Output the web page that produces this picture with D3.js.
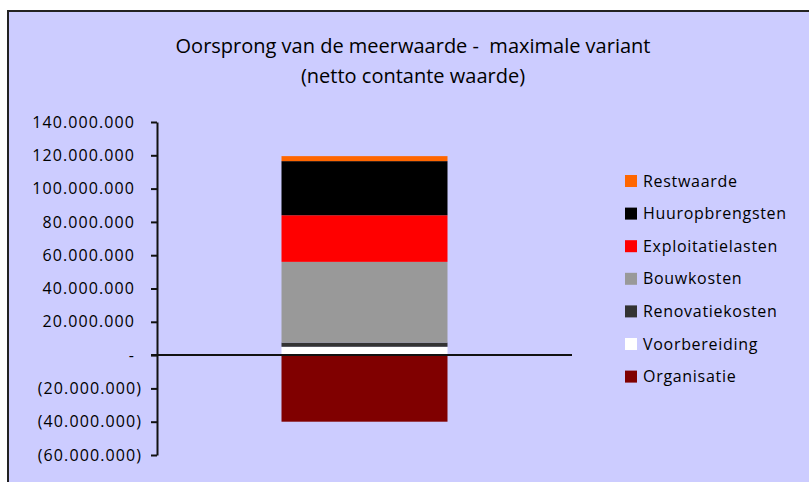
<!DOCTYPE html>
<html>
<head>
<meta charset="utf-8">
<script src="https://cdn.jsdelivr.net/npm/d3@7"></script>
<style>
  body { margin: 0; background: #fff; }
  text { font-family: "Open Sans", sans-serif; fill: #000; }
</style>
</head>
<body>
<div class="graph"></div>
<script>
// legend order, top to bottom
const categories = ['Restwaarde', 'Huuropbrengsten', 'Exploitatielasten', 'Bouwkosten', 'Renovatiekosten', 'Voorbereiding', 'Organisatie'];
const values = [3000000, 32500000, 28000000, 48500000, 2500000, 5000000, -40000000];
const colors = ['#FF6600', '#000000', '#FF0000', '#999999', '#333333', '#FFFFFF', '#800000'];
const tickValues = [140e6, 120e6, 100e6, 80e6, 60e6, 40e6, 20e6, 0, -20e6, -40e6, -60e6];
const titleLines = ['Oorsprong van de meerwaarde -  maximale variant', '(netto contante waarde)'];

const W = 809, H = 482;

const svg = d3.select('.graph').append('svg')
  .attr('width', W)
  .attr('height', H);

// chart area
svg.append('rect')
  .attr('x', 8).attr('y', 11)
  .attr('width', 820).attr('height', 500)
  .attr('fill', '#CCCCFF')
  .attr('stroke', '#222')
  .attr('stroke-width', 2);

svg.append('g').selectAll('text')
  .data(titleLines)
  .join('text')
  .attr('x', 413)
  .attr('y', (d, i) => 53 + i * 30)
  .attr('text-anchor', 'middle')
  .attr('font-size', 20)
  .style('white-space', 'pre')
  .text(d => d);

// stack bottom-up: reversed legend order
const order = categories.slice().reverse();
const row = {};
categories.forEach((c, i) => row[c] = values[i]);

const series = d3.stack()
  .keys(order)
  .offset(d3.stackOffsetDiverging)([row]);

const x = d3.scaleBand()
  .domain(['maximale variant'])
  .range([157, 572])
  .paddingInner(0.6)
  .paddingOuter(0.3);

const y = d3.scaleLinear()
  .domain([-60e6, 140e6])
  .range([455, 122]);

const color = d3.scaleOrdinal().domain(categories).range(colors);

svg.append('g').selectAll('rect')
  .data(series)
  .join('rect')
  .attr('x', x('maximale variant'))
  .attr('width', x.bandwidth())
  .attr('y', d => y(d[0][1]))
  .attr('height', d => y(d[0][0]) - y(d[0][1]))
  .attr('fill', d => color(d.key));

const fmt = v => {
  if (v === 0) return '-';
  const s = d3.format(',')(Math.abs(v)).replace(/,/g, '.');
  return v < 0 ? '(' + s + ')' : s;
};

const axis = svg.append('g')
  .attr('transform', 'translate(157,0)')
  .call(d3.axisLeft(y).tickValues(tickValues).tickFormat(fmt).tickSize(6).tickPadding(11).tickSizeOuter(0));

axis.select('.domain').attr('stroke', '#111').attr('stroke-width', 2);
axis.selectAll('.tick line').attr('stroke', '#111').attr('stroke-width', 2);
axis.selectAll('.tick text')
  .attr('font-family', '"Open Sans", sans-serif')
  .attr('font-size', 16)
  .attr('letter-spacing', 1.1)
  .attr('fill', '#111')
  .attr('x', d => d < 0 ? -15 : -22);

// zero line
svg.append('line')
  .attr('x1', 151).attr('x2', 572)
  .attr('y1', y(0)).attr('y2', y(0))
  .attr('stroke', '#111')
  .attr('stroke-width', 2);

// legend
const legend = svg.append('g').selectAll('g')
  .data(categories)
  .join('g')
  .attr('transform', (d, i) => `translate(625,${181 + i * 32.6})`);

legend.append('rect')
  .attr('x', 0).attr('y', -6)
  .attr('width', 12).attr('height', 12)
  .attr('fill', d => color(d));

legend.append('text')
  .attr('x', 18)
  .attr('dy', '0.35em')
  .attr('font-size', 16)
  .attr('letter-spacing', 0.7)
  .text(d => d);
</script>
</body>
</html>
